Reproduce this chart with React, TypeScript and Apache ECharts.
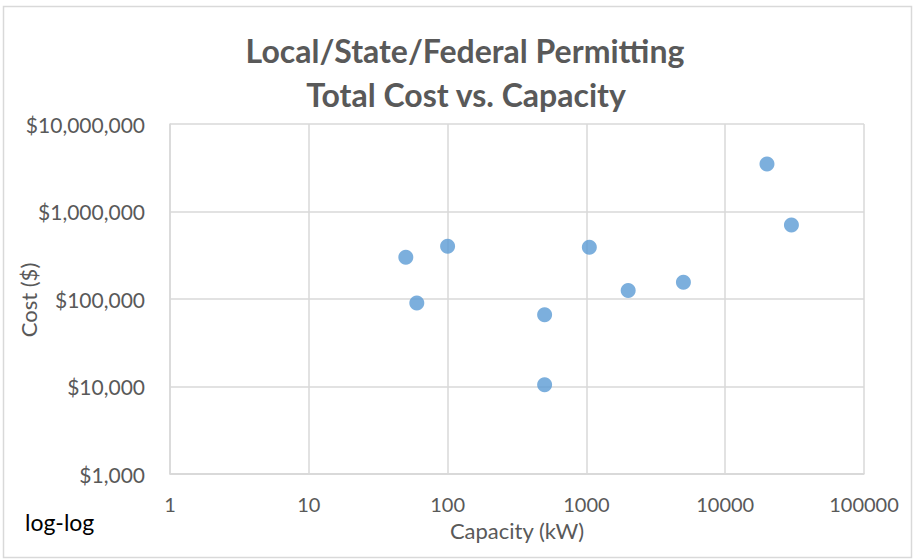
import React, { useEffect, useRef } from "react";
import * as echarts from "echarts";

const capacityKW = [50, 60, 100, 500, 500, 1050, 2000, 5000, 20000, 30000];
const costUSD = [300000, 90000, 400000, 66000, 10500, 390000, 125000, 155000, 3500000, 700000];
const titleLines = ["Local/State/Federal Permitting", "Total Cost vs. Capacity"];
const xAxisName = "Capacity (kW)";
const yAxisName = "Cost ($)";
const cornerNote = "log-log";

const FONT = "Lato, 'Open Sans', sans-serif";
const GRAY = "#595959";
const GRID = "#d9d9d9";

export default function App() {
  const ref = useRef<HTMLDivElement>(null);
  useEffect(() => {
    document.body.style.margin = "0";
    const chart = echarts.init(ref.current!, null, { renderer: "svg" });
    const points = capacityKW.map((x, i) => [x, costUSD[i]]);
    chart.setOption({
      animation: false,
      backgroundColor: "#fff",
      textStyle: { fontFamily: FONT },
      grid: {
        left: 170,
        right: 52,
        top: 124,
        bottom: 86,
        containLabel: false,
        outerBoundsMode: "none",
      },
      xAxis: {
        type: "log",
        logBase: 10,
        min: 1,
        max: 100000,
        name: xAxisName,
        nameLocation: "middle",
        nameGap: 45,
        nameTextStyle: { color: GRAY, fontSize: 22, fontFamily: FONT },
        axisLine: { show: true, lineStyle: { color: GRID, width: 1.5 } },
        axisTick: { show: false },
        splitLine: { show: true, lineStyle: { color: GRID, width: 1.5 } },
        minorTick: { show: false },
        axisLabel: {
          color: GRAY,
          fontSize: 20,
          fontFamily: FONT,
          margin: 20,
          showMaxLabel: true,
          showMinLabel: true,
          formatter: (v: number) => String(Math.round(v)),
        },
      },
      yAxis: {
        type: "log",
        logBase: 10,
        min: 1000,
        max: 10000000,
        axisLine: { show: true, lineStyle: { color: GRID, width: 1.5 } },
        axisTick: { show: false },
        splitLine: { show: true, lineStyle: { color: GRID, width: 1.5 } },
        axisLabel: {
          color: GRAY,
          fontSize: 21,
          fontFamily: FONT,
          margin: 25,
          showMaxLabel: true,
          showMinLabel: true,
          formatter: (v: number) => "$" + Math.round(v).toLocaleString("en-US"),
        },
      },
      series: [
        {
          type: "scatter",
          data: points,
          symbol: "circle",
          symbolSize: 15,
          itemStyle: { color: "#5B9BD5" },
        },
      ],
      graphic: [
        {
          type: "rect",
          shape: { x: 3.5, y: 6.5, width: 908, height: 551 },
          style: { fill: "none", stroke: GRID, lineWidth: 1.5 },
          silent: true,
          z: -1,
        },
        {
          type: "text",
          x: 465,
          y: 50,
          style: {
            text: titleLines[0],
            fill: GRAY,
            font: `bold 32px ${FONT}`,
            textAlign: "center",
            textVerticalAlign: "middle",
          },
        },
        {
          type: "text",
          x: 466,
          y: 94,
          style: {
            text: titleLines[1],
            fill: GRAY,
            font: `bold 32px ${FONT}`,
            textAlign: "center",
            textVerticalAlign: "middle",
          },
        },
        {
          type: "text",
          x: 28,
          y: 300,
          rotation: Math.PI / 2,
          style: {
            text: yAxisName,
            fill: GRAY,
            font: `22px ${FONT}`,
            textAlign: "center",
            textVerticalAlign: "middle",
          },
        },
        {
          type: "text",
          x: 25,
          y: 522,
          style: {
            text: cornerNote,
            fill: "#000",
            font: `23px ${FONT}`,
            textAlign: "left",
            textVerticalAlign: "middle",
          },
        },
      ],
    });
    return () => chart.dispose();
  }, []);
  return (
    <div
      ref={ref}
      style={{ position: "fixed", left: 0, top: 0, width: 916, height: 560 }}
    />
  );
}
